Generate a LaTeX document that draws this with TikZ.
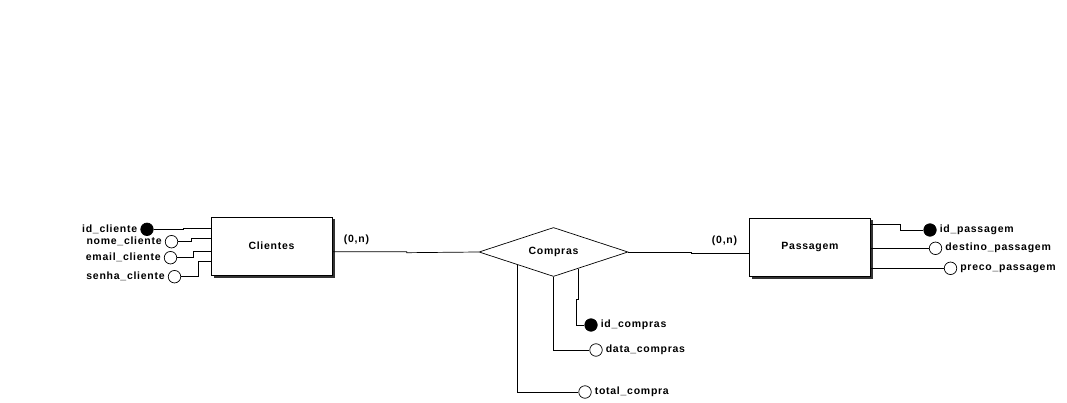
\documentclass[tikz,border=0pt]{standalone}
\usepackage{fontspec}
\setmainfont[LetterSpace=7]{Liberation Sans}
\usepackage{tikz}
\usetikzlibrary{shapes,arrows,positioning,calc,shadows}

\tikzset{
  erfont/.style={font=\fontsize{10.5}{12}\selectfont\bfseries},
  entity/.style={draw, fill=white, line width=0.8pt, minimum width=121pt, minimum height=58pt, inner sep=0pt, erfont,
    drop shadow={shadow xshift=2.5pt, shadow yshift=-2.5pt, fill=black!80, opacity=1}},
  relation/.style={diamond, draw, fill=white, aspect=3, minimum width=149pt, minimum height=49pt, inner sep=0pt, line width=0.7pt, erfont},
  attr/.style={circle, draw, fill=white, minimum size=12.5pt, inner sep=0pt, line width=0.7pt},
  keyattr/.style={attr, fill=black},
  lbl/.style={inner sep=1pt, erfont},
  link/.style={line width=0.7pt}
}

\begin{document}
\begin{tikzpicture}[x=1pt, y=-1pt]
    \useasboundingbox (0,0) rectangle (1067,403);

    % entidades e relacionamento
    \node[entity] (clientes) at (271.5,246) {Clientes};
    \node[entity] (passagem) at (810,247) {Passagem};
    \node[relation] (compras) at (553.5,252) {Compras};

    % atributos de Clientes
    \node[keyattr] (idcliente) at (147,229.3) {};
    \node[attr] (nomecliente) at (171.5,241.7) {};
    \node[attr] (emailcliente) at (170.5,257.7) {};
    \node[attr] (senhacliente) at (174.5,276.7) {};
    \node[lbl, left=2pt of idcliente] (lidcliente) {id\_cliente};
    \node[lbl, left=2pt of nomecliente] (lnomecliente) {nome\_cliente};
    \node[lbl, left=2pt of emailcliente] (lemailcliente) {email\_cliente};
    \node[lbl, left=2pt of senhacliente] (lsenhacliente) {senha\_cliente};

    \draw[link] (idcliente.east) -| (183,228.3) -- (clientes.west |- 0,228.3);
    \draw[link] (nomecliente.east) -| (191.7,238.3) -- (clientes.west |- 0,238.3);
    \draw[link] (emailcliente.east) -| (193.3,251.7) -- (clientes.west |- 0,251.7);
    \draw[link] (senhacliente.east) -| (198.3,261.7) -- (clientes.west |- 0,261.7);

    % atributos de Passagem
    \node[keyattr] (idpassagem) at (930,230) {};
    \node[attr] (destinopassagem) at (935.5,248.3) {};
    \node[attr] (precopassagem) at (950.5,268.3) {};
    \node[lbl, right=2pt of idpassagem] (lidpassagem) {id\_passagem};
    \node[lbl, right=2pt of destinopassagem] (ldestinopassagem) {destino\_passagem};
    \node[lbl, right=2pt of precopassagem] (lprecopassagem) {preco\_passagem};

    \draw[link] (passagem.east |- 0,224) -| (900,230) -- (idpassagem.west);
    \draw[link] (passagem.east |- 0,248.3) -- (destinopassagem.west);
    \draw[link] (passagem.east |- 0,268.3) -- (precopassagem.west);

    % ligacoes do relacionamento
    \draw[link] (clientes.east |- 0,251.7) -| (406.7,252.7) -- (compras.west);
    \draw[link] (compras.east) -| (691.7,253.3) -- (passagem.west |- 0,253.3);
    \node[lbl] (card1) at (356.5,240) {(0,n)};
    \node[lbl] (card2) at (724.5,241) {(0,n)};

    % atributos de Compras
    \node[keyattr] (idcompras) at (591,325) {};
    \node[attr] (datacompras) at (596,350) {};
    \node[attr] (totalcompra) at (585,392) {};
    \node[lbl, right=2pt of idcompras] (lidcompras) {id\_compras};
    \node[lbl, right=2pt of datacompras] (ldatacompras) {data\_compras};
    \node[lbl, right=2pt of totalcompra] (ltotalcompra) {total\_compra};

    \coordinate (cid) at ($(compras.south)!0.333!(compras.east)$);
    \coordinate (ctotal) at ($(compras.south)!0.486!(compras.west)$);
    \draw[link] (cid) -- (cid |- 0,299) -| (576,325) -- (idcompras.west);
    \draw[link] (compras.south) |- (datacompras.west);
    \draw[link] (ctotal) |- (totalcompra.west);
\end{tikzpicture}
\end{document}
